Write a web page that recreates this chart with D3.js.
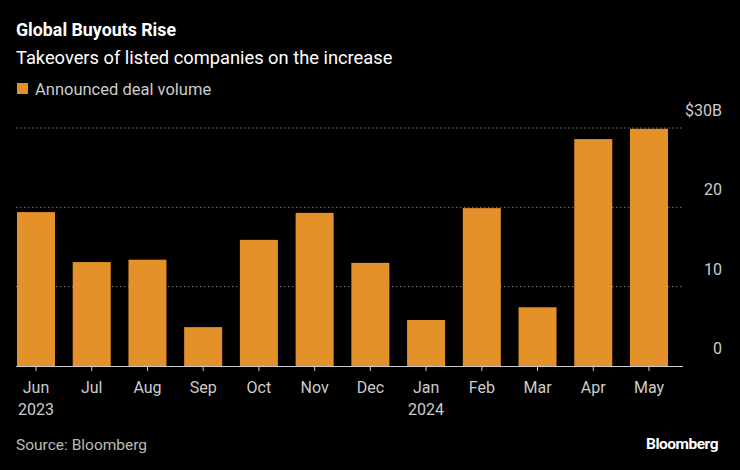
<!DOCTYPE html>
<html><head><meta charset="utf-8">
<script src="https://cdn.jsdelivr.net/npm/d3@7"></script>
<style>body{margin:0;background:#000;}svg{display:block;font-family:Roboto,"Noto Sans",sans-serif;}</style>
</head><body><svg id="c" width="740" height="470"></svg>
<script>
const months = ["Jun","Jul","Aug","Sep","Oct","Nov","Dec","Jan","Feb","Mar","Apr","May"];
const years = ["2023","","","","","","","2024","","","",""];
const volume = [19.4,13.1,13.4,4.9,15.9,19.3,13.0,5.8,19.9,7.4,28.6,29.9];
const yTicks = [0,10,20,30];
const tickLabels = ["0","10","20","$30B"];

(function(){
const svg = d3.select("#c");
svg.append("rect").attr("width",740).attr("height",470).attr("fill","#000");
const pl=16,pr=683,pt=128,pb=366;
const x = d3.scaleBand().domain(months).range([17,668]).paddingInner(0.318).paddingOuter(0);
const y = d3.scaleLinear().domain([0,30]).range([pb,pt]);
const orange="#E5912A";

svg.append("text").attr("x",16).attr("y",36).attr("fill","#fff").attr("font-size",17.8).attr("font-weight","bold").text("Global Buyouts Rise");
svg.append("text").attr("x",16).attr("y",64).attr("fill","#fff").attr("font-size",18.3).text("Takeovers of listed companies on the increase");
svg.append("rect").attr("x",17).attr("y",83).attr("width",11).attr("height",11).attr("fill",orange);
svg.append("text").attr("x",35).attr("y",95).attr("fill","#ccc").attr("font-size",16.5).text("Announced deal volume");

yTicks.forEach((t,i)=>{
  if(t>0) svg.append("line").attr("x1",pl).attr("x2",pr).attr("y1",y(t)).attr("y2",y(t))
    .attr("stroke","#777").attr("stroke-dasharray","1.5,2.5");
  svg.append("text").attr("x",722).attr("y",y(t)-12).attr("text-anchor","end").attr("fill","#ccc").attr("font-size",16).text(tickLabels[i]);
});

svg.selectAll("rect.bar").data(volume).enter().append("rect").attr("class","bar")
  .attr("x",(d,i)=>x(months[i])).attr("width",x.bandwidth())
  .attr("y",d=>y(d)).attr("height",d=>pb-y(d)).attr("fill",orange);

svg.append("line").attr("x1",pl).attr("x2",pr).attr("y1",pb+0.5).attr("y2",pb+0.5).attr("stroke","#ccc");
months.forEach((m,i)=>{
  const cx=x(m)+x.bandwidth()/2;
  svg.append("line").attr("x1",cx).attr("x2",cx).attr("y1",pb).attr("y2",pb+5).attr("stroke","#ccc");
  svg.append("text").attr("x",cx).attr("y",393).attr("text-anchor","middle").attr("fill","#ccc").attr("font-size",16).text(m);
  if(years[i]) svg.append("text").attr("x",cx).attr("y",415).attr("text-anchor","middle").attr("fill","#ccc").attr("font-size",16).text(years[i]);
});

svg.append("text").attr("x",16).attr("y",450).attr("fill","#bbb").attr("font-size",15.5).text("Source: Bloomberg");
svg.append("text").attr("x",718).attr("y",449).attr("text-anchor","end").attr("fill","#fff").attr("font-size",15.5).attr("font-weight","bold").attr("letter-spacing","-0.5").text("Bloomberg");
})();
</script></body></html>
